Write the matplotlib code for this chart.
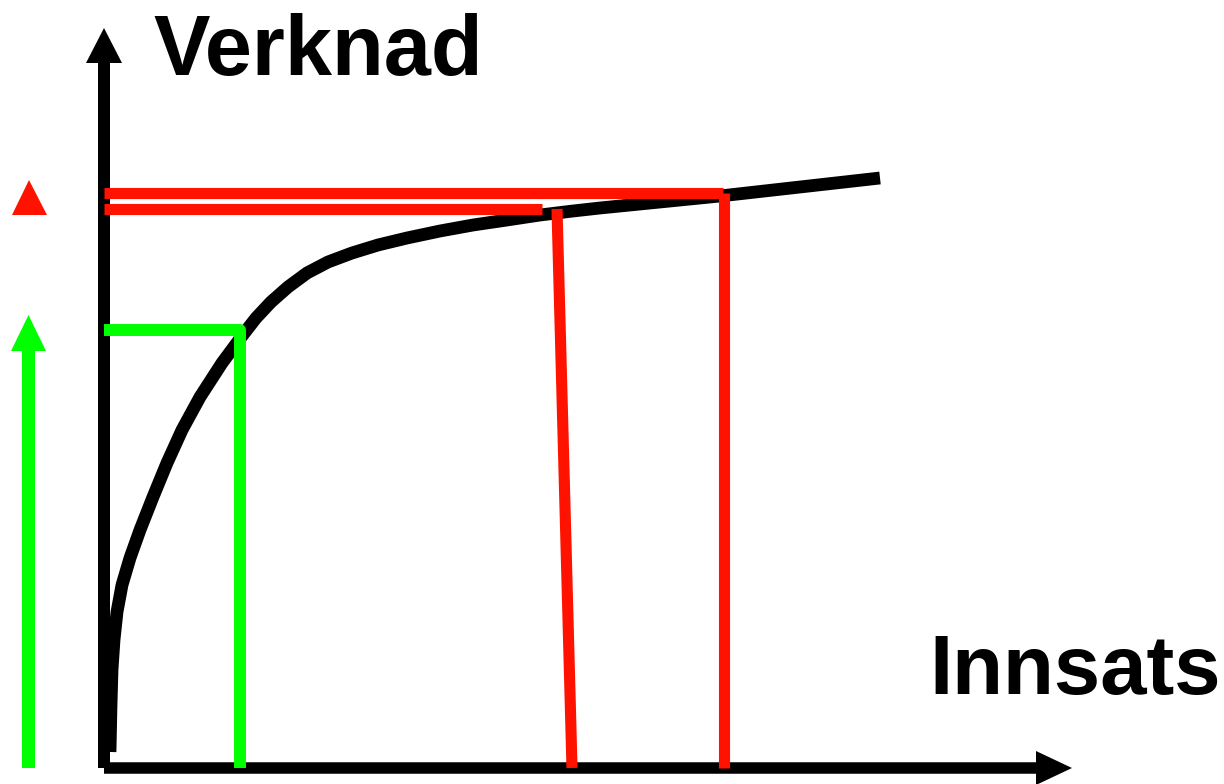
import matplotlib
matplotlib.use("Agg")
import matplotlib.pyplot as plt

# ---- data (units: Innsats / Verknad, arbitrary) ----
curve_x = [0.06, 0.07, 0.08, 0.10, 0.13, 0.18, 0.26, 0.36, 0.49, 0.63, 0.78, 0.96,
           1.18, 1.38, 1.52, 1.67, 1.84, 2.03, 2.24, 2.48, 2.74, 3.03, 3.36, 3.69,
           4.03, 4.36, 4.69, 4.96, 5.56, 6.16, 6.96, 7.76]
curve_y = [0.16, 0.63, 0.98, 1.28, 1.56, 1.83, 2.10, 2.38, 2.71, 3.05, 3.38, 3.71,
           4.05, 4.32, 4.50, 4.66, 4.81, 4.95, 5.06, 5.15, 5.23, 5.30, 5.37, 5.43,
           5.48, 5.53, 5.57, 5.60, 5.66, 5.72, 5.81, 5.90]

green_x = [0.0, 1.36, 1.36]
green_y = [4.38, 4.38, 0.0]

red1_h_x = [0.0, 6.19]
red1_h_y = [5.75, 5.75]
red1_v_x = [6.20, 6.20]
red1_v_y = [5.75, 0.0]

red2_h_x = [0.0, 4.38]
red2_h_y = [5.595, 5.595]
red2_s_x = [4.53, 4.68]
red2_s_y = [5.59, 0.0]

side_x = -0.755
green_arrow_top = 4.53
red_triangle_y = 5.715

x_axis_end = 9.68
y_axis_end = 7.40

label_x = "Innsats"
label_y = "Verknad"

RED = "#ff1200"
GREEN = "#00ff00"

fig = plt.figure(figsize=(12.24, 7.84), dpi=100)
ax = fig.add_axes([0, 0, 1, 1])
ax.set_xlim(-1.04, 11.20)
ax.set_ylim(-0.16, 7.68)
ax.axis("off")

# axes arrows
ax.arrow(0, 0, x_axis_end, 0, width=0.115, head_width=0.34, head_length=0.36,
         length_includes_head=True, color="black", lw=0, zorder=2)
ax.arrow(0, 0, 0, y_axis_end, width=0.12, head_width=0.36, head_length=0.35,
         length_includes_head=True, color="black", lw=0, zorder=2)

# curve
ax.plot(curve_x, curve_y, color="black", lw=9.2, solid_capstyle="butt",
        solid_joinstyle="round", zorder=3)

# green
ax.plot(green_x, green_y, color=GREEN, lw=8.6, solid_capstyle="butt",
        solid_joinstyle="round", zorder=4)

# red
for xs, ys in [(red1_h_x, red1_h_y), (red1_v_x, red1_v_y),
               (red2_h_x, red2_h_y), (red2_s_x, red2_s_y)]:
    ax.plot(xs, ys, color=RED, lw=8.0, solid_capstyle="butt", zorder=4)

# side markers
ax.arrow(side_x, 0, 0, green_arrow_top, width=0.13, head_width=0.35, head_length=0.36,
         length_includes_head=True, color=GREEN, lw=0, zorder=4)
ax.plot([side_x], [red_triangle_y], marker="^", ms=25.2, color=RED, mew=0,
        linestyle="none", zorder=4)

# labels
ax.text(0.49, 6.93, label_y, fontsize=61, fontweight="bold",
        family="Liberation Sans", ha="left", va="baseline")
ax.text(8.25, 0.74, label_x, fontsize=60, fontweight="bold",
        family="Liberation Sans", ha="left", va="baseline")

fig.savefig("out.png", dpi=100)
